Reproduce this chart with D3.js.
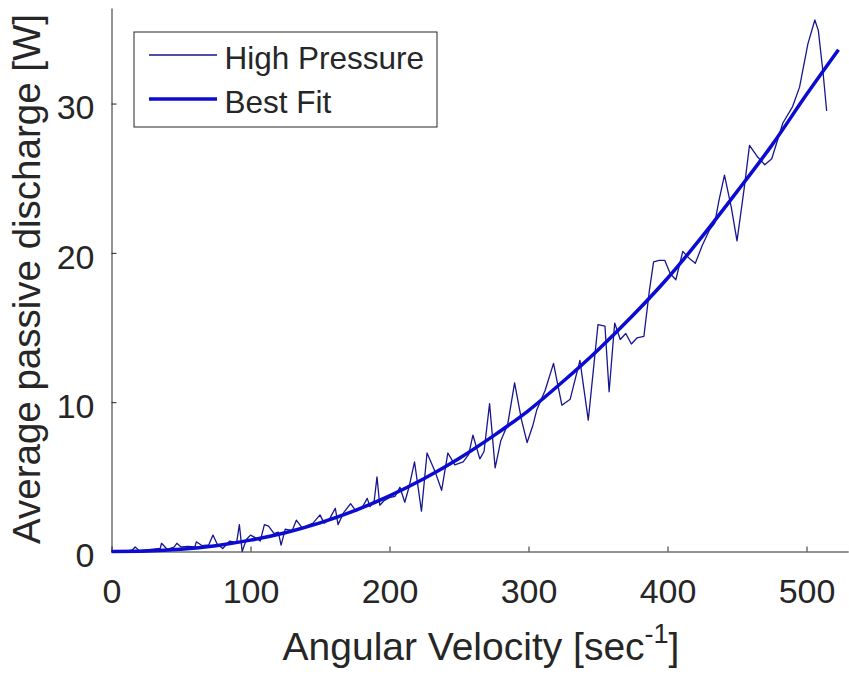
<!DOCTYPE html>
<html>
<head>
<meta charset="utf-8">
<script src="https://cdn.jsdelivr.net/npm/d3@7"></script>
<style>
  html, body { margin: 0; padding: 0; background: #fff; }
  svg { display: block; font-family: "Liberation Sans", Arial, sans-serif; }
</style>
</head>
<body>
<svg id="svg" width="849" height="675"></svg>
<script>
var hpX = [0, 5, 10, 15, 17, 20, 25, 30, 35, 36, 40, 45, 47, 50, 55, 60, 61, 65, 70, 73,
  76, 80, 85, 90, 92, 94, 97, 100, 104, 107, 110, 113, 117, 120, 122, 125, 130, 133, 137, 140,
  145, 150, 153, 157, 161, 163, 167, 172, 176, 180, 184, 186, 189, 191, 193, 196, 200, 204, 207.5, 211,
  214, 218, 223, 227, 233, 237.5, 242, 247, 253, 257, 260, 265, 268, 272, 276, 280, 285, 290, 295, 299,
  303, 306, 312, 318, 324, 330, 337, 343, 350, 355, 358, 362, 366, 370, 374, 378, 383, 387, 390, 394,
  398, 402, 406, 411, 416, 420, 425, 430, 434, 437, 441, 446, 450, 455, 459, 465, 470, 475, 483, 490,
  495, 501, 506, 508.5, 512, 514.5];
var hpY = [0, 0.05, 0, 0.1, 0.3, 0.05, 0.1, 0.15, 0.2, 0.55, 0.15, 0.3, 0.55, 0.3, 0.35, 0.3, 0.65, 0.4, 0.45, 1.1,
  0.5, 0.2, 0.7, 0.6, 1.8, 0, 0.8, 1.1, 0.9, 0.7, 1.8, 1.7, 1.2, 1.3, 0.43, 1.5, 1.4, 2.1, 1.6, 1.7,
  1.9, 2.45, 1.9, 2.2, 2.9, 1.8, 2.6, 3.2, 2.7, 2.9, 3.56, 3.0, 3.4, 5.0, 3.1, 3.4, 3.6, 3.7, 4.3, 3.3,
  4.3, 6.0, 2.7, 6.6, 5.3, 4.1, 6.6, 5.8, 6.0, 6.5, 7.8, 6.2, 6.7, 9.9, 5.6, 7.4, 8.5, 11.3, 8.8, 7.3,
  8.4, 9.5, 10.8, 12.6, 9.8, 10.2, 12.8, 8.8, 15.2, 15.1, 10.7, 15.3, 14.2, 14.6, 13.9, 14.3, 14.4, 17.5, 19.4, 19.5,
  19.5, 18.6, 18.2, 20.1, 19.6, 19.3, 20.5, 21.5, 22.0, 23.5, 25.2, 23.0, 20.8, 24.2, 27.2, 26.4, 25.9, 26.3, 28.7, 29.8,
  31.1, 34.0, 35.6, 34.9, 32.0, 29.5];

// Best fit curve, sampled every 25 units
var fitX = [0, 25, 50, 75, 100, 125, 150, 175, 200, 225, 250, 275, 300, 325, 350, 375, 400, 425, 450, 475, 500, 523];
var fitY = [0, 0.03, 0.15, 0.39, 0.76, 1.26, 1.92, 2.74, 3.73, 4.89, 6.23, 7.76, 9.44, 11.4, 13.5, 15.8, 18.3, 21.1, 24.1, 27.2, 30.6, 33.6];

var xTicks = [0, 100, 200, 300, 400, 500],
    yTicks = [0, 10, 20, 30],
    legendNames = ['High Pressure', 'Best Fit'];

var ink = '#262626',
    dataColor = '#16168e',
    fitColor = '#0b0bd2';

var svg = d3.select('#svg');

var x = d3.scaleLinear().domain([0, 530]).range([111.5, 848.2]),
    y = d3.scaleLinear().domain([0, 36.4]).range([551.5, 8]);

drawAxes();
drawLines();
drawLegend();
drawLabels();

function drawAxes () {
  var gx = svg.append('g')
    .attr('transform', 'translate(0,' + y(0) + ')')
    .call(d3.axisBottom(x).tickValues(xTicks).tickSizeInner(-5).tickSizeOuter(0).tickPadding(27));
  var gy = svg.append('g')
    .attr('transform', 'translate(' + x(0) + ',0)')
    .call(d3.axisLeft(y).tickValues(yTicks).tickSizeInner(-5).tickSizeOuter(0).tickPadding(17));

  [gx, gy].forEach(function (g) {
    g.select('.domain').attr('stroke', ink);
    g.selectAll('.tick line').attr('stroke', ink);
    g.selectAll('.tick text')
      .attr('fill', ink)
      .style('font-family', '"Liberation Sans", Arial, sans-serif')
      .style('font-size', '34px');
  });
  gy.selectAll('.tick text').attr('dy', '0.45em');
}

function drawLines () {
  var hp = hpX.map(function (d, i) { return {x: d, y: hpY[i]}; }),
      fit = fitX.map(function (d, i) { return {x: d, y: fitY[i]}; });

  var line = d3.line()
    .x(function (d) { return x(d.x); })
    .y(function (d) { return y(d.y); });

  svg.append('path')
    .datum(hp)
    .attr('fill', 'none')
    .attr('stroke', dataColor)
    .attr('stroke-width', 1.3)
    .attr('stroke-linejoin', 'round')
    .attr('d', line);

  svg.append('path')
    .datum(fit)
    .attr('fill', 'none')
    .attr('stroke', fitColor)
    .attr('stroke-width', 3.5)
    .attr('d', line.curve(d3.curveMonotoneX));
}

function drawLegend () {
  var g = svg.append('g');
  g.append('rect')
    .attr('x', 134).attr('y', 32)
    .attr('width', 303).attr('height', 95)
    .attr('fill', '#fff')
    .attr('stroke', ink)
    .attr('stroke-width', 1);

  var rows = g.selectAll('.entry')
    .data(legendNames)
    .enter()
      .append('g')
      .attr('transform', function (d, i) { return 'translate(0,' + (55 + i * 44) + ')'; });

  rows.append('line')
    .attr('x1', 149).attr('x2', 217)
    .attr('stroke', function (d, i) { return i ? fitColor : dataColor; })
    .attr('stroke-width', function (d, i) { return i ? 3.5 : 1.3; });

  rows.append('text')
    .attr('x', 224.5)
    .attr('y', 14)
    .attr('fill', ink)
    .style('font-size', '31.5px')
    .text(function (d) { return d; });
}

function drawLabels () {
  var xl = svg.append('text')
    .attr('x', 481).attr('y', 660)
    .attr('text-anchor', 'middle')
    .attr('fill', ink)
    .style('font-size', '39px');
  xl.append('tspan').text('Angular Velocity [sec');
  xl.append('tspan').attr('dy', -17).style('font-size', '27px').text('-1');
  xl.append('tspan').attr('dy', 17).text(']');

  svg.append('text')
    .attr('transform', 'translate(40,279) rotate(-90)')
    .attr('text-anchor', 'middle')
    .attr('fill', ink)
    .style('font-size', '38.5px')
    .text('Average passive discharge [W]');
}
</script>
</body>
</html>
